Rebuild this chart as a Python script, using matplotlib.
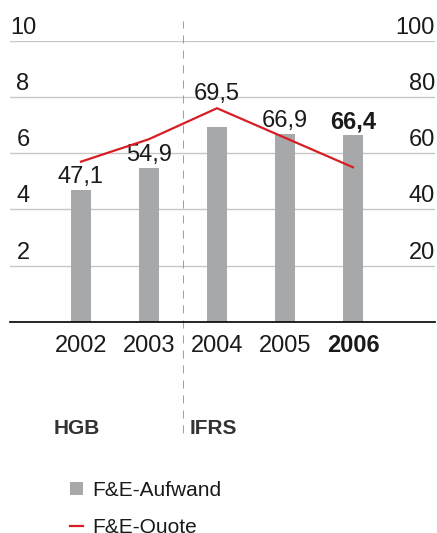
import matplotlib.pyplot as plt

jahre = ['2002', '2003', '2004', '2005', '2006']
aufwand = [47.1, 54.9, 69.5, 66.9, 66.4]      # F&E-Aufwand (rechte Skala)
aufwand_text = ['47,1', '54,9', '69,5', '66,9', '66,4']
quote = [5.7, 6.5, 7.6, 6.55, 5.5]            # F&E-Quote (linke Skala)
ticks_links = [2, 4, 6, 8, 10]
ticks_rechts = [20, 40, 60, 80, 100]

plt.rcParams['font.family'] = ['Liberation Sans', 'DejaVu Sans']
schrift = '#1a1a1a'

fig = plt.figure(figsize=(4.37, 5.33), dpi=100)
ax = fig.add_axes([0.0229, 0.3959, 0.9725, 0.5277])
x = list(range(len(jahre)))

# Balken auf der rechten Skala 0-100
ax.bar(x, aufwand, width=0.28, color='#a7a8aa', zorder=2, label='F&E-Aufwand')
ax.set_xlim(-1.044, 5.206)
ax.set_ylim(0, 100)
for t in ticks_rechts:
    ax.axhline(t, color='#c8c8c8', lw=1.0, zorder=1)
ax.set_xticks([])
ax.set_yticks([])
for s in ['top', 'left', 'right']:
    ax.spines[s].set_visible(False)
ax.spines['bottom'].set_linewidth(1.2)
ax.spines['bottom'].set_color('black')

# Linie auf der linken Skala 0-10
ax2 = ax.twinx()
ax2.set_ylim(0, 10)
ax2.plot(x, quote, color='#d71e24', lw=1.6, label='F&E-Quote', zorder=3)
ax2.set_yticks([])
ax2.axis('off')

# Achsenbeschriftung links und rechts
for t in ticks_links:
    ax2.annotate(str(t), xy=(0, t), xycoords=('axes fraction', 'data'), xytext=(13, 7),
                 textcoords='offset pixels', ha='center', va='baseline', fontsize=17, color=schrift)
for t in ticks_rechts:
    ax.annotate(str(t), xy=(1, t), xycoords=('axes fraction', 'data'), xytext=(0, 7),
                textcoords='offset pixels', ha='right', va='baseline', fontsize=17, color=schrift)

# Jahre unter der Achse
for i, j in enumerate(jahre):
    ax.annotate(j, xy=(i, 0), xytext=(0, -30), textcoords='offset pixels', ha='center',
                va='baseline', fontsize=17, color=schrift,
                fontweight='bold' if i == len(jahre) - 1 else 'normal', annotation_clip=False)

# Werte über den Balken (2004 über der Linie)
for i, t in enumerate(aufwand_text):
    if jahre[i] == '2004':
        ax2.annotate(t, xy=(i, quote[i]), xytext=(0, 8), textcoords='offset pixels', ha='center',
                     va='baseline', fontsize=17, color=schrift, zorder=4)
    else:
        ax.annotate(t, xy=(i, aufwand[i]), xytext=(0, 7), textcoords='offset pixels', ha='center',
                    va='baseline', fontsize=17, color=schrift, zorder=4,
                    fontweight='bold' if i == len(jahre) - 1 else 'normal')

# gestrichelte Trennlinie HGB / IFRS
ax.axvline(1.5, ymin=-0.394, ymax=1.069, color='#a0a0a0', lw=0.75,
           linestyle=(0, (7.7, 6.7)), clip_on=False, zorder=1)
ax.annotate('HGB', xy=(0, 0), xytext=(-27, -112), textcoords='offset pixels', ha='left',
            va='baseline', fontsize=15, fontweight='bold', color='#333333', annotation_clip=False)
ax.annotate('IFRS', xy=(2, 0), xytext=(-27, -112), textcoords='offset pixels', ha='left',
            va='baseline', fontsize=15, fontweight='bold', color='#333333', annotation_clip=False)

# Legende
h1, l1 = ax.get_legend_handles_labels()
h2, l2 = ax2.get_legend_handles_labels()
fig.legend(h1 + h2, l1 + l2, loc='upper left', bbox_to_anchor=(70 / 437, 1 - 481 / 533),
           frameon=False, fontsize=15, handlelength=0.6, handleheight=0.6,
           handletextpad=0.45, labelspacing=0.85, borderpad=0, borderaxespad=0,
           labelcolor=schrift)

fig.savefig('out.png', dpi=100)
